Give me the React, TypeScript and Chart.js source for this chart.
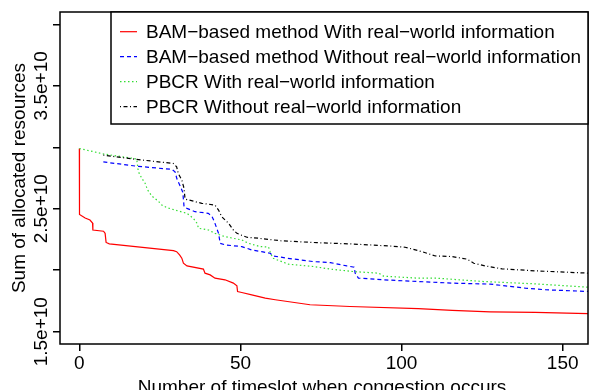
import React, { useEffect, useRef } from "react";
import { Chart, registerables } from "chart.js";
Chart.register(...registerables);

const FONT = '"Liberation Sans", Arial, Helvetica, sans-serif';

const seriesNames = [
  "BAM\u2212based method With real\u2212world information",
  "BAM\u2212based method Without real\u2212world information",
  "PBCR With real\u2212world information",
  "PBCR Without real\u2212world information",
];

const bamWithX = [0, 0.05, 1.8, 3.3, 4.1, 4.2, 7.5, 8.0, 8.3, 9.3, 29.2, 30.2, 31.1, 31.8, 32.3, 33.4, 38.5, 39.0, 40.6, 42.1, 45.2, 47.8, 48.9, 49.1, 50.4, 53.5, 57.7, 60.8, 71.6, 84.0, 105.2, 115.7, 127.5, 141.5, 158.3];
const bamWithY = [2.99e10, 2.453e10, 2.425e10, 2.408e10, 2.384e10, 2.327e10, 2.317e10, 2.3e10, 2.226e10, 2.214e10, 2.159e10, 2.151e10, 2.125e10, 2.098e10, 2.057e10, 2.035e10, 2.009e10, 1.976e10, 1.962e10, 1.935e10, 1.922e10, 1.895e10, 1.873e10, 1.827e10, 1.819e10, 1.8e10, 1.773e10, 1.76e10, 1.719e10, 1.705e10, 1.687e10, 1.673e10, 1.662e10, 1.657e10, 1.646e10];

const bamWithoutX = [7.45, 17.8, 28.7, 29.7, 30.3, 31.3, 32.1, 32.5, 33.4, 35.9, 40.0, 41.1, 41.9, 43.2, 43.7, 45.3, 50.4, 53.5, 56.6, 59.2, 60.2, 64.4, 72.7, 77.9, 83.0, 85.3, 85.6, 86.6, 94.4, 105.3, 115.7, 127.5, 132.2, 138.4, 144.6, 158.3];
const bamWithoutY = [2.881e10, 2.846e10, 2.82e10, 2.8e10, 2.741e10, 2.684e10, 2.635e10, 2.516e10, 2.503e10, 2.476e10, 2.463e10, 2.441e10, 2.395e10, 2.3e10, 2.219e10, 2.206e10, 2.192e10, 2.165e10, 2.151e10, 2.138e10, 2.116e10, 2.098e10, 2.07e10, 2.062e10, 2.035e10, 2.025e10, 1.976e10, 1.936e10, 1.922e10, 1.908e10, 1.895e10, 1.887e10, 1.873e10, 1.854e10, 1.841e10, 1.827e10];

const pbcrWithX = [0, 7.45, 17.8, 18.3, 19.4, 20.4, 21.2, 22.5, 24.5, 25.6, 27.1, 29.7, 33.4, 35.4, 36.5, 37.0, 40.1, 42.1, 45.2, 50.4, 52.5, 56.1, 58.7, 59.2, 60.0, 64.9, 72.7, 77.9, 85.1, 92.9, 94.4, 104.8, 110.5, 125.5, 141.5, 158.3];
const pbcrWithY = [2.99e10, 2.946e10, 2.905e10, 2.802e10, 2.747e10, 2.708e10, 2.652e10, 2.603e10, 2.562e10, 2.53e10, 2.51e10, 2.489e10, 2.463e10, 2.422e10, 2.382e10, 2.341e10, 2.327e10, 2.3e10, 2.273e10, 2.246e10, 2.219e10, 2.192e10, 2.189e10, 2.151e10, 2.098e10, 2.049e10, 2.03e10, 2.009e10, 1.989e10, 1.976e10, 1.952e10, 1.936e10, 1.936e10, 1.908e10, 1.889e10, 1.861e10];

const pbcrWithoutX = [7.45, 17.8, 29.2, 30.2, 30.7, 31.8, 32.5, 32.8, 36.5, 38.0, 42.1, 43.2, 44.2, 46.3, 47.8, 48.9, 52.0, 55.6, 62.3, 73.7, 84.1, 96.5, 101.1, 106.3, 110.5, 115.7, 120.3, 122.4, 126.0, 131.2, 141.5, 158.3];
const pbcrWithoutY = [2.936e10, 2.901e10, 2.868e10, 2.841e10, 2.787e10, 2.733e10, 2.665e10, 2.579e10, 2.554e10, 2.544e10, 2.53e10, 2.489e10, 2.435e10, 2.382e10, 2.327e10, 2.3e10, 2.268e10, 2.26e10, 2.24e10, 2.224e10, 2.214e10, 2.197e10, 2.187e10, 2.151e10, 2.116e10, 2.111e10, 2.09e10, 2.057e10, 2.035e10, 2.011e10, 1.995e10, 1.976e10];

const xTickValues = [0, 50, 100, 150];
const yTickValues = [1.5e10, 2e10, 2.5e10, 3e10, 3.5e10, 4e10];
const yTickLabels = ["1.5e+10", "", "2.5e+10", "", "3.5e+10", ""];
const xTitle = "Number of timeslot when congestion occurs";
const yTitle = "Sum of allocated resources";

const colors = ["#ff0000", "#0000ff", "#33dd33", "#000000"];
const dashes: number[][] = [[], [4, 3], [1.5, 2.5], [1, 2.5, 4, 2.5]];

export default function App() {
  const ref = useRef<HTMLCanvasElement>(null);
  useEffect(() => {
    document.body.style.margin = "0";
    const canvas = ref.current!;
    const pts = (xs: number[], ys: number[]) => xs.map((x, i) => ({ x, y: ys[i] }));
    const seriesX = [bamWithX, bamWithoutX, pbcrWithX, pbcrWithoutX];
    const seriesY = [bamWithY, bamWithoutY, pbcrWithY, pbcrWithoutY];

    const overlay = {
      id: "rStyle",
      afterDraw(chart: any) {
        const c = chart.ctx as CanvasRenderingContext2D;
        const a = chart.chartArea;
        const ys = chart.scales.y;
        c.save();
        c.strokeStyle = "#000";
        c.lineWidth = 1.5;
        c.setLineDash([]);
        c.strokeRect(a.left, a.top, a.right - a.left, a.bottom - a.top);
        c.fillStyle = "#000";
        c.font = `19px ${FONT}`;
        yTickValues.forEach((v, i) => {
          if (!yTickLabels[i]) return;
          const py = ys.getPixelForValue(v);
          c.save();
          c.translate(a.left - 13, py);
          c.rotate(-Math.PI / 2);
          c.textAlign = "center";
          c.textBaseline = "alphabetic";
          c.fillText(yTickLabels[i], 0, 0);
          c.restore();
        });
        c.save();
        c.translate(25, (a.top + a.bottom) / 2);
        c.rotate(-Math.PI / 2);
        c.textAlign = "center";
        c.textBaseline = "alphabetic";
        c.fillText(yTitle, 0, 0);
        c.restore();
        c.textAlign = "center";
        c.textBaseline = "alphabetic";
        c.fillText(xTitle, (a.left + a.right) / 2 - 2, 393);

        // legend
        const lx = 111, ly = a.top, lw = a.right - 111, lh = 112;
        c.fillStyle = "#fff";
        c.fillRect(lx, ly, lw, lh);
        c.strokeStyle = "#000";
        c.lineWidth = 1.5;
        c.strokeRect(lx, ly, lw, lh);
        c.textAlign = "left";
        c.textBaseline = "middle";
        seriesNames.forEach((name, i) => {
          const ry = ly + 19.7 + i * 25;
          c.strokeStyle = colors[i];
          c.lineWidth = 1.2;
          c.setLineDash(dashes[i]);
          c.beginPath();
          c.moveTo(120, ry);
          c.lineTo(137, ry);
          c.stroke();
          c.setLineDash([]);
          c.fillStyle = "#000";
          c.fillText(name, 146, ry + 1);
        });
        c.restore();
      },
    };

    const chart = new Chart(canvas, {
      type: "line",
      data: {
        datasets: seriesNames.map((name, i) => ({
          label: name,
          data: pts(seriesX[i], seriesY[i]),
          borderColor: colors[i],
          backgroundColor: colors[i],
          borderWidth: 1.2,
          borderDash: dashes[i],
          pointRadius: 0,
          tension: 0,
          fill: false,
          order: 4 - i,
        })),
      },
      options: {
        animation: false,
        responsive: false,
        devicePixelRatio: 1,
        layout: { padding: { top: 12, right: 2, left: 0, bottom: 0 } },
        plugins: { legend: { display: false }, tooltip: { enabled: false } },
        scales: {
          x: {
            type: "linear",
            min: -6,
            max: 157.85,
            afterBuildTicks: (s: any) => {
              s.ticks = xTickValues.map((v) => ({ value: v }));
            },
            afterFit: (s: any) => {
              s.height = 46;
            },
            grid: { drawOnChartArea: false, drawTicks: true, tickLength: 7, color: "#000", lineWidth: 1.5 },
            border: { display: false },
            ticks: {
              font: { size: 19, family: FONT },
              color: "#000",
              padding: 1,
              maxRotation: 0,
              autoSkip: false,
              callback: (v: any) => String(v),
            },
          },
          y: {
            type: "linear",
            min: 1.4e10,
            max: 4.1e10,
            afterBuildTicks: (s: any) => {
              s.ticks = yTickValues.map((v) => ({ value: v }));
            },
            afterFit: (s: any) => {
              s.width = 60;
            },
            grid: { drawOnChartArea: false, drawTicks: true, tickLength: 7, color: "#000", lineWidth: 1.5 },
            border: { display: false },
            ticks: { display: false },
          },
        },
      },
      plugins: [overlay],
    });
    return () => chart.destroy();
  }, []);
  return <canvas ref={ref} width={590} height={390} style={{ display: "block" }} />;
}
